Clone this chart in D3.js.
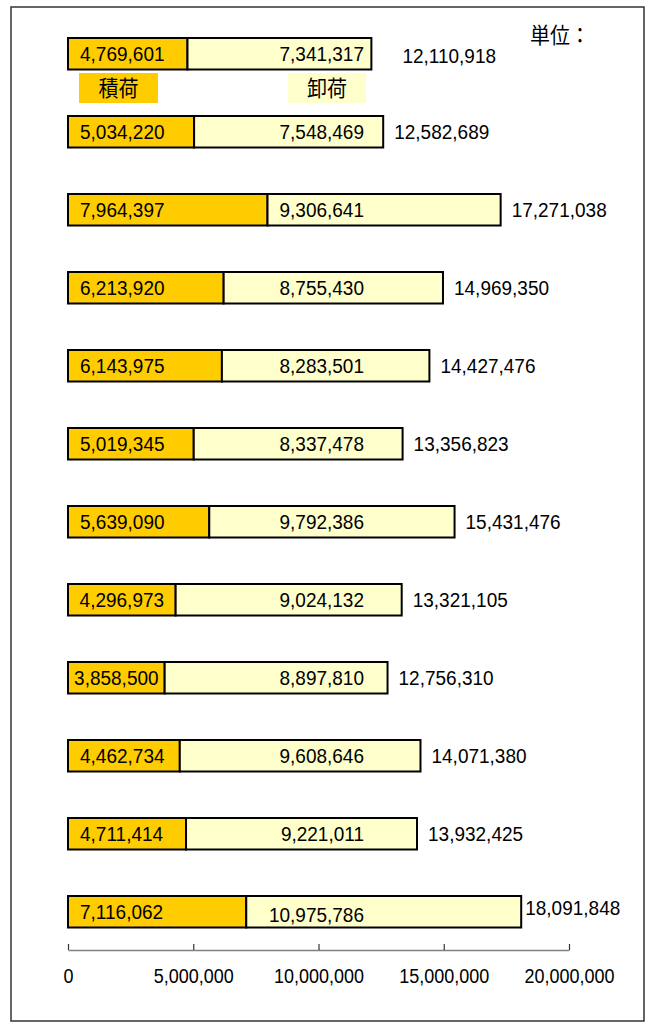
<!DOCTYPE html>
<html>
<head>
<meta charset="utf-8">
<script src="https://cdn.jsdelivr.net/npm/d3@7"></script>
<style>
  body { margin: 0; background: #fff; }
  svg text { font-family: "Liberation Sans", Arial, sans-serif; fill: #000; }
  .cjk { font-family: "Noto Sans CJK JP", "Noto Sans CJK SC", sans-serif; }
</style>
</head>
<body>
<svg id="chart" width="655" height="1025"></svg>
<script>
// rows top to bottom (category labels are not shown in the picture)
const rows = ["r01", "r02", "r03", "r04", "r05", "r06", "r07", "r08", "r09", "r10", "r11", "r12"];
// 積荷 (loading)
const loading = [4769601, 5034220, 7964397, 6213920, 6143975, 5019345, 5639090, 4296973, 3858500, 4462734, 4711414, 7116062];
// 卸荷 (unloading)
const unloading = [7341317, 7548469, 9306641, 8755430, 8283501, 8337478, 9792386, 9024132, 8897810, 9608646, 9221011, 10975786];
// totals shown at bar ends
const totals = [12110918, 12582689, 17271038, 14969350, 14427476, 13356823, 15431476, 13321105, 12756310, 14071380, 13932425, 18091848];
const tickValues = [0, 5000000, 10000000, 15000000, 20000000];
const legendLabels = ["積荷", "卸荷"];
const unitLabel = "単位：";

const svg = d3.select("#chart");
const fmt = d3.format(",");
const stretch = 1.1;   // text in the picture is a bit taller than wide

const x = d3.scaleLinear().domain([0, 20000000]).range([68, 569]);
const y = d3.scalePoint().domain(rows).range([38, 896]);
const barH = 31.5;

// outer frame
svg.append("rect")
  .attr("x", 11).attr("y", 7)
  .attr("width", 633).attr("height", 1014)
  .attr("fill", "#fff")
  .attr("stroke", "#333").attr("stroke-width", 1.5);

const data = rows.map((r, i) => ({ row: r, i, a: loading[i], b: unloading[i], t: totals[i] }));

const bars = svg.append("g").selectAll("g").data(data).join("g");

bars.append("rect")
  .attr("x", x(0))
  .attr("y", d => y(d.row))
  .attr("width", d => x(d.a) - x(0))
  .attr("height", barH)
  .attr("fill", "#FFCC00")
  .attr("stroke", "#000").attr("stroke-width", 2);

bars.append("rect")
  .attr("x", d => x(d.a))
  .attr("y", d => y(d.row))
  .attr("width", d => x(d.a + d.b) - x(d.a))
  .attr("height", barH)
  .attr("fill", "#FFFFCC")
  .attr("stroke", "#000").attr("stroke-width", 2);

function label(g, tx, ty, txt, size, anchor) {
  return g.append("text")
    .attr("transform", `translate(${tx},${ty}) scale(1,${stretch})`)
    .attr("dy", "0.36em")
    .attr("text-anchor", anchor || "start")
    .style("font-size", size + "px")
    .text(txt);
}

const isLast = d => d.i === rows.length - 1;

// 積荷 values inside the orange part
bars.each(function(d) {
  const g = d3.select(this);
  const cy = y(d.row) + barH / 2;
  const t = label(g, 0, cy, fmt(d.a), 19);
  const w = t.node().getComputedTextLength();
  const tx = Math.min(x(0) + 12, (x(0) + x(d.a)) / 2 - w / 2);
  t.attr("transform", `translate(${tx},${cy}) scale(1,${stretch})`);

  // 卸荷 values, right aligned
  label(g, 364, cy + (isLast(d) ? 3 : 0), fmt(d.b), 19, "end");

  // totals (first one sits further out, next to the legend)
  const gap = d.i === 0 ? 31 : isLast(d) ? 4 : 11;
  label(g, x(d.t) + gap, cy - (isLast(d) ? 4 : 0) + (d.i === 0 ? 2 : 0), fmt(d.t), 19);
});

// legend boxes
const legend = svg.append("g");
const legendBoxes = [
  { txt: legendLabels[0], x0: 79, x1: 158, fill: "#FFCC00" },
  { txt: legendLabels[1], x0: 288, x1: 366, fill: "#FFFFCC" }
];
legend.selectAll("rect").data(legendBoxes).join("rect")
  .attr("x", d => d.x0).attr("y", 73)
  .attr("width", d => d.x1 - d.x0).attr("height", 30)
  .attr("fill", d => d.fill);
legendBoxes.forEach(d => {
  label(legend, (d.x0 + d.x1) / 2, 88, d.txt, 20, "middle").attr("class", "cjk");
});

// unit label
label(svg, 530, 35, unitLabel, 20).attr("class", "cjk");

// x axis
const axis = svg.append("g")
  .attr("transform", "translate(0,950)")
  .call(d3.axisBottom(x).tickValues(tickValues).tickFormat(fmt).tickSizeInner(-6).tickSizeOuter(0));

axis.select(".domain").attr("stroke", "#808080").attr("stroke-width", 1.5);
axis.selectAll(".tick line").attr("stroke", "#333").attr("stroke-width", 1.2);
axis.selectAll(".tick text")
  .attr("y", 0).attr("dy", 0)
  .attr("transform", `translate(0,33) scale(1,${stretch})`)
  .style("font-size", "18px")
  .style("font-family", "'Liberation Sans', Arial, sans-serif")
  .attr("fill", "#000");
</script>
</body>
</html>
